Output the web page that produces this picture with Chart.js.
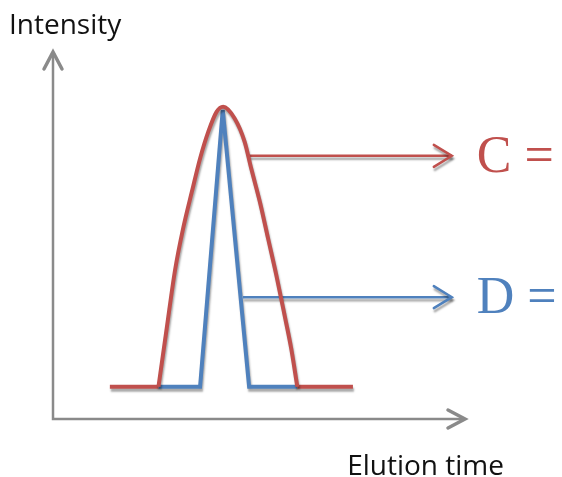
<!DOCTYPE html>
<html>
<head>
<meta charset="utf-8">
<script src="https://cdn.jsdelivr.net/npm/chart.js@4"></script>
<style>
  html, body { margin: 0; padding: 0; background: #fff; }
  #wrap { width: 562px; height: 477px; position: relative; }
</style>
</head>
<body>
<div id="wrap"><canvas id="peakChart"></canvas></div>
<script>
// valeurs (x = temps d'élution, y = intensité, unités arbitraires 0..10)
const redBaseLeftX  = [1.38, 2.56];
const redBaseRightX = [5.93, 7.28];
const baseY = 0.88;

const redPeakX = [2.56, 2.76, 2.96, 3.16, 3.37, 3.57, 3.77, 3.97, 4.13, 4.41, 4.65, 4.81, 5.02, 5.22, 5.42, 5.62, 5.78, 5.93];
const redPeakY = [0.88, 2.47, 4.04, 5.20, 6.19, 7.10, 7.83, 8.37, 8.51, 8.19, 7.56, 6.83, 5.92, 4.92, 3.92, 2.83, 1.93, 0.88];

const bluePeakX = [2.56, 3.57, 4.12, 4.76, 5.93];
const bluePeakY = [0.88, 0.88, 8.42, 0.88, 0.88];

const arrowC = { x: [4.71, 9.68], y: 7.17, label: 'C =' };
const arrowD = { x: [4.61, 9.68], y: 3.32, label: 'D =' };

const axisLabels = { y: 'Intensity', x: 'Elution time' };

const RED = '#c0504d';
const BLUE = '#4f81bd';
const GREY = '#8a8a8a';

const pts = (xs, ys) => xs.map((x, i) => ({ x, y: Array.isArray(ys) ? ys[i] : ys }));

// petite flèche ouverte ">" au bout d'un segment
function chevron(ctx, x, y, dir, len, half, color, width) {
  ctx.save();
  ctx.strokeStyle = color;
  ctx.lineWidth = width;
  ctx.lineCap = 'round';
  ctx.lineJoin = 'miter';
  ctx.beginPath();
  if (dir === 'right') {
    ctx.moveTo(x - len, y - half); ctx.lineTo(x, y); ctx.lineTo(x - len, y + half);
  } else {
    ctx.moveTo(x - half, y + len); ctx.lineTo(x, y); ctx.lineTo(x + half, y + len);
  }
  ctx.stroke();
  ctx.restore();
}

const shadowPlugin = {
  id: 'shadow',
  beforeDatasetDraw(chart) {
    const ctx = chart.ctx;
    ctx.save();
    ctx.shadowColor = 'rgba(0,0,0,0.35)';
    ctx.shadowOffsetX = 1;
    ctx.shadowOffsetY = 3;
    ctx.shadowBlur = 2;
  },
  afterDatasetDraw(chart) {
    chart.ctx.restore();
  }
};

const decorPlugin = {
  id: 'decor',
  beforeDatasetsDraw(chart) {
    const { ctx, scales: { x, y } } = chart;
    const x0 = x.getPixelForValue(0), y0 = y.getPixelForValue(0);
    const xEnd = x.getPixelForValue(10), yEnd = y.getPixelForValue(10);
    // axes
    ctx.save();
    ctx.strokeStyle = GREY;
    ctx.lineWidth = 2.5;
    ctx.beginPath();
    ctx.moveTo(x0, yEnd); ctx.lineTo(x0, y0); ctx.lineTo(xEnd, y0);
    ctx.stroke();
    ctx.restore();
    chevron(ctx, x0, yEnd, 'up', 17, 9, GREY, 3.5);
    chevron(ctx, xEnd, y0, 'right', 17, 9, GREY, 3.5);

    ctx.save();
    ctx.fillStyle = '#111';
    ctx.font = '28px "Open Sans", sans-serif';
    ctx.textBaseline = 'alphabetic';
    ctx.textAlign = 'left';
    ctx.fillText(axisLabels.y, x0 - 44, yEnd - 18);
    ctx.textAlign = 'right';
    ctx.fillText(axisLabels.x, xEnd + 39, y0 + 56);
    ctx.restore();
  },
  afterDatasetsDraw(chart) {
    const { ctx, scales: { x, y } } = chart;
    [[arrowC, RED], [arrowD, BLUE]].forEach(([a, color]) => {
      const tipX = x.getPixelForValue(a.x[1]);
      const py = y.getPixelForValue(a.y);
      ctx.save();
      ctx.shadowColor = 'rgba(0,0,0,0.35)';
      ctx.shadowOffsetX = 1;
      ctx.shadowOffsetY = 3;
      ctx.shadowBlur = 2;
      chevron(ctx, tipX, py, 'right', 18, 11, color, 2.5);
      ctx.restore();
      ctx.save();
      ctx.fillStyle = color;
      ctx.font = '52px "Liberation Serif", "Times New Roman", serif';
      ctx.textAlign = 'left';
      ctx.textBaseline = 'middle';
      ctx.fillText(a.label, tipX + 25, py + 2);
      ctx.restore();
    });
  }
};

const lineDs = (data, color, width, order, smooth) => ({
  data,
  borderColor: color,
  borderWidth: width,
  pointRadius: 0,
  fill: false,
  cubicInterpolationMode: smooth ? 'monotone' : 'default',
  tension: 0,
  clip: false,
  order,
  borderCapStyle: 'butt',
  borderJoinStyle: 'miter'
});

new Chart(document.getElementById('peakChart'), {
  type: 'line',
  data: {
    datasets: [
      lineDs(pts(redPeakX, redPeakY), RED, 4, 0, true),
      lineDs(pts(redBaseLeftX, baseY), RED, 4, 1),
      lineDs(pts(redBaseRightX, baseY), RED, 4, 1),
      lineDs(pts(bluePeakX, bluePeakY), BLUE, 4, 3),
      lineDs(pts(arrowC.x, arrowC.y), RED, 2.5, 2),
      lineDs(pts(arrowD.x, arrowD.y), BLUE, 2.5, 2)
    ]
  },
  options: {
    responsive: true,
    maintainAspectRatio: false,
    animation: false,
    layout: { padding: { left: 53, right: 97, top: 52, bottom: 58 } },
    plugins: {
      legend: { display: false },
      tooltip: { enabled: false }
    },
    scales: {
      x: { type: 'linear', min: 0, max: 10, display: false },
      y: { type: 'linear', min: 0, max: 10, display: false }
    }
  },
  plugins: [shadowPlugin, decorPlugin]
});
</script>
</body>
</html>
